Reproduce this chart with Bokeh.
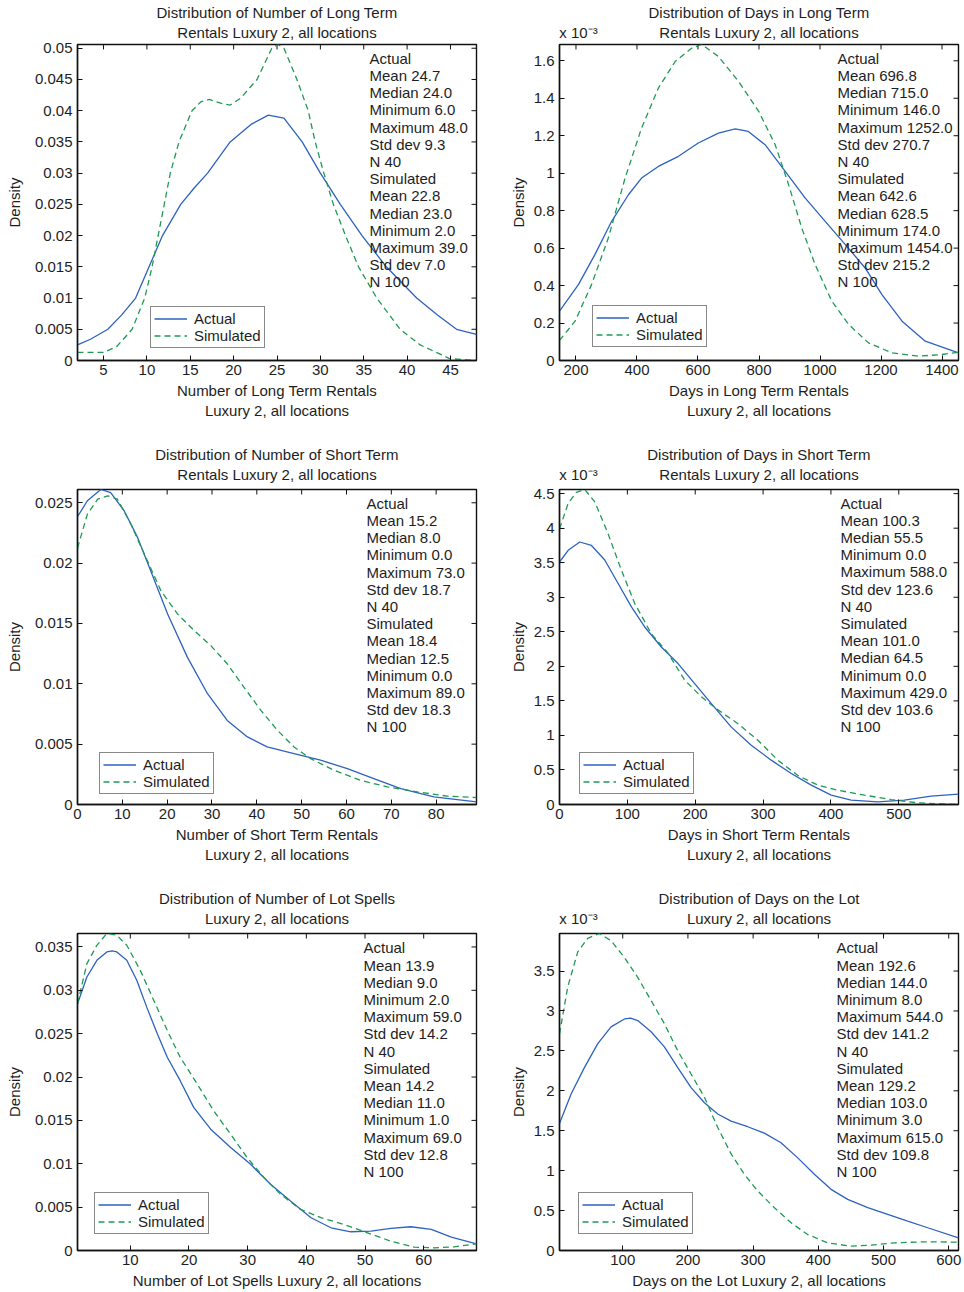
from bokeh.plotting import figure
from bokeh.models import (Label, LinearAxis, Range1d, FixedTicker, CustomJSTickFormatter,
                          Legend, LegendItem)
from bokeh.layouts import column, row
from bokeh.embed import file_html
from bokeh.resources import INLINE

FONT = "Liberation Sans"
TXT = "#1e1e1e"
BLUE = "#2d62c0"
GREEN = "#1f9a55"
FS = "15px"
SCALE_TXT = "x 10\u207b\u00b3"
SCALE_W = 38.0  # approx. rendered width of SCALE_TXT in px

# ---------------- Panel 1: Number of Long Term Rentals ----------------
p1_title = ["Distribution of Number of Long Term", "Rentals Luxury 2, all locations"]
p1_xlabel = ["Number of Long Term Rentals", "Luxury 2, all locations"]
p1_xrange = [2, 48]
p1_yrange = [0, 0.0506]
p1_xticks = [5, 10, 15, 20, 25, 30, 35, 40, 45]
p1_yticks = [0, 0.005, 0.01, 0.015, 0.02, 0.025, 0.03, 0.035, 0.04, 0.045, 0.05]
p1_act_x = [2.0, 3.5, 5.5, 7.1, 8.7, 10.25, 11.8, 13.9, 15.5, 17.0, 19.6, 22.0, 24.0, 25.8, 27.9, 30.0, 32.3, 34.8, 37.6, 41.1, 43.5, 45.7, 48.0]
p1_act_y = [0.0025, 0.0034, 0.005, 0.0073, 0.010, 0.015, 0.020, 0.025, 0.0277, 0.030, 0.035, 0.0378, 0.0393, 0.0388, 0.035, 0.030, 0.025, 0.020, 0.015, 0.010, 0.0073, 0.005, 0.0042]
p1_sim_x = [2.0, 5.0, 6.5, 8.3, 9.75, 10.6, 11.3, 12.0, 12.7, 13.7, 15.2, 16.2, 17.2, 18.5, 19.6, 20.8, 22.7, 24.4, 25.1, 25.8, 27.3, 28.6, 29.4, 30.4, 31.5, 32.9, 34.4, 36.5, 39.2, 41.5, 44.9, 48.0]
p1_sim_y = [0.0013, 0.0013, 0.0022, 0.005, 0.010, 0.015, 0.020, 0.025, 0.030, 0.035, 0.040, 0.0414, 0.0418, 0.0412, 0.0409, 0.042, 0.045, 0.050, 0.0506, 0.050, 0.045, 0.040, 0.035, 0.030, 0.025, 0.020, 0.015, 0.010, 0.005, 0.0025, 0.0003, 0.0]
p1_stats = ["Actual", "Mean 24.7", "Median 24.0", "Minimum 6.0", "Maximum 48.0", "Std dev 9.3", "N 40",
            "Simulated", "Mean 22.8", "Median 23.0", "Minimum 2.0", "Maximum 39.0", "Std dev 7.0", "N 100"]

# ---------------- Panel 2: Days in Long Term Rentals (x 1e-3) ----------------
p2_title = ["Distribution of Days in Long Term", "Rentals Luxury 2, all locations"]
p2_xlabel = ["Days in Long Term Rentals", "Luxury 2, all locations"]
p2_xrange = [146, 1454]
p2_yrange = [0, 1.687]
p2_xticks = [200, 400, 600, 800, 1000, 1200, 1400]
p2_yticks = [0, 0.2, 0.4, 0.6, 0.8, 1.0, 1.2, 1.4, 1.6]
p2_act_x = [146, 208, 262, 317, 372, 415, 470, 536, 601, 667, 722, 765, 820, 886, 951, 1017, 1083, 1148, 1203, 1269, 1345, 1454]
p2_act_y = [0.263, 0.405, 0.565, 0.743, 0.885, 0.974, 1.036, 1.09, 1.161, 1.214, 1.236, 1.223, 1.152, 1.01, 0.868, 0.743, 0.619, 0.494, 0.352, 0.21, 0.103, 0.041]
p2_sim_x = [146, 197, 251, 306, 361, 415, 470, 525, 580, 612, 667, 733, 799, 853, 897, 940, 984, 1039, 1094, 1159, 1236, 1323, 1400, 1454]
p2_sim_y = [0.107, 0.21, 0.405, 0.654, 0.974, 1.241, 1.454, 1.596, 1.668, 1.687, 1.623, 1.49, 1.33, 1.152, 0.939, 0.708, 0.512, 0.316, 0.192, 0.094, 0.041, 0.023, 0.032, 0.044]
p2_stats = ["Actual", "Mean 696.8", "Median 715.0", "Minimum 146.0", "Maximum 1252.0", "Std dev 270.7", "N 40",
            "Simulated", "Mean 642.6", "Median 628.5", "Minimum 174.0", "Maximum 1454.0", "Std dev 215.2", "N 100"]

# ---------------- Panel 3: Number of Short Term Rentals ----------------
p3_title = ["Distribution of Number of Short Term", "Rentals Luxury 2, all locations"]
p3_xlabel = ["Number of Short Term Rentals", "Luxury 2, all locations"]
p3_xrange = [0, 89]
p3_yrange = [0, 0.0261]
p3_xticks = [0, 10, 20, 30, 40, 50, 60, 70, 80]
p3_yticks = [0, 0.005, 0.01, 0.015, 0.02, 0.025]
p3_act_x = [0, 2.2, 5.2, 7.4, 10.4, 13.4, 16.3, 20.1, 24.5, 29.0, 33.4, 37.9, 42.3, 48.3, 54.2, 60.2, 66.1, 72.1, 79.5, 89]
p3_act_y = [0.02384, 0.02517, 0.0261, 0.02585, 0.02434, 0.02213, 0.01938, 0.01579, 0.01221, 0.00918, 0.00697, 0.0056, 0.00477, 0.00422, 0.00367, 0.00298, 0.00215, 0.00132, 0.00063, 0.00022]
p3_sim_x = [0, 2.2, 4.5, 6.7, 8.9, 11.9, 14.9, 18.6, 22.3, 26.0, 29.7, 33.4, 37.1, 40.9, 44.6, 48.3, 52.0, 57.2, 63.1, 69.1, 75.8, 82.5, 89]
p3_sim_y = [0.02125, 0.02406, 0.0253, 0.02558, 0.0253, 0.02324, 0.02075, 0.01772, 0.01579, 0.01442, 0.01318, 0.01166, 0.00973, 0.0078, 0.00615, 0.00477, 0.0038, 0.00284, 0.00201, 0.00146, 0.00105, 0.00069, 0.00058]
p3_stats = ["Actual", "Mean 15.2", "Median 8.0", "Minimum 0.0", "Maximum 73.0", "Std dev 18.7", "N 40",
            "Simulated", "Mean 18.4", "Median 12.5", "Minimum 0.0", "Maximum 89.0", "Std dev 18.3", "N 100"]

# ---------------- Panel 4: Days in Short Term Rentals (x 1e-3) ----------------
p4_title = ["Distribution of Days in Short Term", "Rentals Luxury 2, all locations"]
p4_xlabel = ["Days in Short Term Rentals", "Luxury 2, all locations"]
p4_xrange = [0, 588]
p4_yrange = [0, 4.56]
p4_xticks = [0, 100, 200, 300, 400, 500]
p4_yticks = [0, 0.5, 1, 1.5, 2, 2.5, 3, 3.5, 4, 4.5]
p4_act_x = [0, 12.8, 29.9, 47.1, 66.7, 86.4, 106, 125.6, 150, 174.7, 199.2, 223.8, 253.2, 282.6, 312, 341.5, 371, 400.4, 429.8, 469, 508, 547.6, 588]
p4_act_y = [3.51, 3.68, 3.80, 3.75, 3.54, 3.2, 2.86, 2.57, 2.28, 2.04, 1.75, 1.46, 1.12, 0.859, 0.642, 0.449, 0.28, 0.135, 0.063, 0.039, 0.063, 0.121, 0.15]
p4_sim_x = [0, 12.8, 25, 37.3, 52, 71.6, 91.3, 110.9, 135.4, 160, 184.5, 209, 233.6, 263, 292.4, 322, 351.3, 380.8, 410, 449.5, 488.7, 528, 588]
p4_sim_y = [3.99, 4.36, 4.52, 4.56, 4.38, 3.92, 3.39, 2.91, 2.47, 2.19, 1.80, 1.56, 1.37, 1.17, 0.93, 0.64, 0.42, 0.28, 0.207, 0.135, 0.072, 0.024, 0.0]
p4_stats = ["Actual", "Mean 100.3", "Median 55.5", "Minimum 0.0", "Maximum 588.0", "Std dev 123.6", "N 40",
            "Simulated", "Mean 101.0", "Median 64.5", "Minimum 0.0", "Maximum 429.0", "Std dev 103.6", "N 100"]

# ---------------- Panel 5: Number of Lot Spells ----------------
p5_title = ["Distribution of Number of Lot Spells", "Luxury 2, all locations"]
p5_xlabel = ["Number of Lot Spells Luxury 2, all locations"]
p5_xrange = [1, 69]
p5_yrange = [0, 0.03655]
p5_xticks = [10, 20, 30, 40, 50, 60]
p5_yticks = [0, 0.005, 0.01, 0.015, 0.02, 0.025, 0.03, 0.035]
p5_act_x = [1, 2.6, 4.3, 6.0, 6.9, 7.7, 9.4, 11.1, 12.8, 14.6, 16.3, 18.5, 20.8, 23.7, 27.1, 30.5, 33.9, 37.3, 40.8, 44.2, 47.6, 51.0, 54.4, 57.8, 61.3, 64.7, 69]
p5_act_y = [0.02845, 0.03153, 0.03346, 0.03442, 0.03455, 0.03442, 0.03346, 0.03115, 0.02806, 0.02498, 0.02228, 0.01958, 0.0165, 0.01399, 0.01187, 0.00994, 0.00763, 0.0057, 0.00378, 0.00262, 0.00216, 0.00224, 0.00254, 0.00274, 0.00243, 0.00154, 0.00077]
p5_sim_x = [1, 2.6, 4.3, 6.0, 7.7, 9.4, 11.7, 14.0, 16.3, 18.5, 21.4, 24.2, 27.1, 29.9, 32.8, 35.6, 39.0, 42.5, 46.4, 50.4, 54.4, 58.4, 61.8, 65.2, 69]
p5_sim_y = [0.02845, 0.03307, 0.03519, 0.03655, 0.03635, 0.03519, 0.0323, 0.02883, 0.02536, 0.02228, 0.0192, 0.01611, 0.01341, 0.01072, 0.0084, 0.00648, 0.00474, 0.00378, 0.00301, 0.00204, 0.00108, 0.00039, 0.00031, 0.00042, 0.00077]
p5_stats = ["Actual", "Mean 13.9", "Median 9.0", "Minimum 2.0", "Maximum 59.0", "Std dev 14.2", "N 40",
            "Simulated", "Mean 14.2", "Median 11.0", "Minimum 1.0", "Maximum 69.0", "Std dev 12.8", "N 100"]

# ---------------- Panel 6: Days on the Lot (x 1e-3) ----------------
p6_title = ["Distribution of Days on the Lot", "Luxury 2, all locations"]
p6_xlabel = ["Days on the Lot Luxury 2, all locations"]
p6_xrange = [3, 615]
p6_yrange = [0, 3.97]
p6_xticks = [100, 200, 300, 400, 500, 600]
p6_yticks = [0, 0.5, 1, 1.5, 2, 2.5, 3, 3.5]
p6_act_x = [3, 20.8, 41.2, 61.7, 82.1, 102.6, 112, 123, 143.5, 163.9, 184.4, 204.8, 225.3, 245.7, 266.2, 291.7, 317.2, 342.8, 368.4, 393.9, 419.5, 445, 475.8, 506.4, 537, 567.8, 615]
p6_act_y = [1.59, 1.96, 2.29, 2.59, 2.80, 2.90, 2.91, 2.88, 2.74, 2.55, 2.29, 2.04, 1.85, 1.71, 1.62, 1.55, 1.47, 1.35, 1.16, 0.954, 0.766, 0.64, 0.536, 0.452, 0.368, 0.285, 0.159]
p6_sim_x = [3, 15.6, 31, 46.3, 64.2, 82.1, 102.6, 123, 143.5, 163.9, 184.4, 204.8, 225.3, 245.7, 266.2, 286.6, 307, 332.6, 358.2, 383.7, 414.4, 450.2, 480.9, 516.7, 562.7, 615]
p6_sim_y = [2.71, 3.30, 3.74, 3.91, 3.97, 3.88, 3.67, 3.42, 3.13, 2.84, 2.50, 2.21, 1.92, 1.54, 1.21, 0.954, 0.745, 0.536, 0.347, 0.20, 0.096, 0.054, 0.067, 0.096, 0.109, 0.105]
p6_stats = ["Actual", "Mean 192.6", "Median 144.0", "Minimum 8.0", "Maximum 544.0", "Std dev 141.2", "N 40",
            "Simulated", "Mean 129.2", "Median 103.0", "Minimum 3.0", "Maximum 615.0", "Std dev 109.8", "N 100"]

TICK_FMT = "return String(parseFloat(tick.toFixed(6)));"
INK = "#111111"


def style_text_axis(a):
    a.major_label_text_font = FONT
    a.major_label_text_font_size = FS
    a.major_label_text_color = TXT
    a.axis_label_text_font = FONT
    a.axis_label_text_font_size = FS
    a.axis_label_text_font_style = "normal"
    a.axis_label_text_color = TXT


def text_axis(ticks, labels, standoff, axis_label=None, axis_label_standoff=0):
    # an axis used only to carry text lines outside the frame
    a = LinearAxis(ticker=FixedTicker(ticks=ticks),
                   formatter=CustomJSTickFormatter(args=dict(labels=labels), code="return labels[index];"))
    a.major_tick_in = 0
    a.major_tick_out = 0
    a.major_tick_line_color = None
    a.minor_tick_line_color = None
    a.axis_line_color = None
    a.major_label_standoff = standoff
    style_text_axis(a)
    if axis_label is not None:
        a.axis_label = axis_label
        a.axis_label_standoff = axis_label_standoff
    return a


def panel(width, height, bl, br, bt, bb, xr, yr, xt, yt, ax, ay, sx, sy,
          ttl, xlabel, stats, stats_dx, stats_top, legend_loc, scaled=False, ylab_standoff=9,
          title_standoff=7):
    fw = width - bl - br
    fh = height - bt - bb
    p = figure(width=width, height=height, output_backend="svg", toolbar_location=None,
               x_range=Range1d(*xr), y_range=Range1d(*yr),
               min_border_left=bl, min_border_right=br, min_border_top=bt, min_border_bottom=bb,
               x_axis_location=None, y_axis_location=None)
    p.xgrid.visible = False
    p.ygrid.visible = False
    p.outline_line_color = INK
    p.outline_line_width = 1.4
    p.background_fill_color = "white"
    p.border_fill_color = "white"

    xa = LinearAxis(ticker=FixedTicker(ticks=xt), formatter=CustomJSTickFormatter(code=TICK_FMT))
    ya = LinearAxis(ticker=FixedTicker(ticks=yt), formatter=CustomJSTickFormatter(code=TICK_FMT))
    for a in (xa, ya):
        a.major_tick_in = 5
        a.major_tick_out = 0
        a.minor_tick_line_color = None
        a.axis_line_color = INK
        a.axis_line_width = 1.4
        a.major_tick_line_color = INK
        style_text_axis(a)
    xa.major_label_standoff = 4
    xa.axis_label = xlabel[0]
    xa.axis_label_standoff = 4
    ya.major_label_standoff = 5
    ya.axis_label = "Density"
    ya.axis_label_standoff = ylab_standoff
    p.add_layout(xa, "below")
    p.add_layout(ya, "left")

    xc = (xr[0] + xr[1]) / 2.0
    if len(xlabel) > 1:
        p.add_layout(text_axis([xc], [xlabel[1]], 0), "below")

    # title lines (and the exponent of the y scale) carried by a text-only top axis
    if scaled:
        x_exp = xr[0] + (SCALE_W / 2.0) * (xr[1] - xr[0]) / fw
        top = text_axis([x_exp, xc], [SCALE_TXT, ttl[1]], title_standoff, ttl[0], 0)
    else:
        top = text_axis([xc], [ttl[1]], title_standoff, ttl[0], 0)
    p.add_layout(top, "above")

    # inward ticks on the top and right edges of the box
    dy = 5.0 * (yr[1] - yr[0]) / fh
    dx = 5.0 * (xr[1] - xr[0]) / fw
    p.segment(x0=xt, y0=[yr[1]] * len(xt), x1=xt, y1=[yr[1] - dy] * len(xt),
              line_color=INK, line_width=1)
    p.segment(x0=[xr[1]] * len(yt), y0=yt, x1=[xr[1] - dx] * len(yt), y1=yt,
              line_color=INK, line_width=1)

    r1 = p.line(ax, ay, line_color=BLUE, line_width=1.3)
    r2 = p.line(sx, sy, line_color=GREEN, line_width=1.3, line_dash="6 4")
    leg = Legend(items=[LegendItem(label="Actual", renderers=[r1]),
                        LegendItem(label="Simulated", renderers=[r2])],
                 location=legend_loc)
    leg.label_text_font = FONT
    leg.label_text_font_size = FS
    leg.label_text_color = TXT
    leg.border_line_color = INK
    leg.border_line_width = 1.2
    leg.background_fill_color = "white"
    leg.background_fill_alpha = 1.0
    leg.padding = 3
    leg.spacing = 0
    leg.margin = 0
    leg.glyph_width = 33
    leg.glyph_height = 17
    leg.label_height = 17
    leg.label_standoff = 7
    p.add_layout(leg, "center")

    # statistics block inside the frame
    for i, line in enumerate(stats):
        p.add_layout(Label(x=stats_dx, y=fh - stats_top - 17.2 * i, x_units="screen", y_units="screen",
                           text=line, text_align="left", text_baseline="middle",
                           text_font=FONT, text_font_size=FS, text_color=TXT))
    return p


LW, RW = 505, 458
LBL, LBR, RBL, RBR = 77, 29, 54, 5

f1 = panel(LW, 430, LBL, LBR, 43, 70, p1_xrange, p1_yrange, p1_xticks, p1_yticks,
           p1_act_x, p1_act_y, p1_sim_x, p1_sim_y, p1_title, p1_xlabel, p1_stats,
           292, 14.7, (73, 12), title_standoff=4)
f2 = panel(RW, 430, RBL, RBR, 43, 70, p2_xrange, p2_yrange, p2_xticks, p2_yticks,
           p2_act_x, p2_act_y, p2_sim_x, p2_sim_y, p2_title, p2_xlabel, p2_stats,
           278, 14.7, (33, 13), scaled=True, ylab_standoff=4, title_standoff=4)
f3 = panel(LW, 440, LBL, LBR, 59, 66, p3_xrange, p3_yrange, p3_xticks, p3_yticks,
           p3_act_x, p3_act_y, p3_sim_x, p3_sim_y, p3_title, p3_xlabel, p3_stats,
           289, 13.7, (22, 10))
f4 = panel(RW, 440, RBL, RBR, 59, 66, p4_xrange, p4_yrange, p4_xticks, p4_yticks,
           p4_act_x, p4_act_y, p4_sim_x, p4_sim_y, p4_title, p4_xlabel, p4_stats,
           281, 13.5, (20, 10), scaled=True, ylab_standoff=4)
f5 = panel(LW, 422, LBL, LBR, 63, 42, p5_xrange, p5_yrange, p5_xticks, p5_yticks,
           p5_act_x, p5_act_y, p5_sim_x, p5_sim_y, p5_title, p5_xlabel, p5_stats,
           286, 14.3, (17, 16))
f6 = panel(RW, 422, RBL, RBR, 63, 42, p6_xrange, p6_yrange, p6_xticks, p6_yticks,
           p6_act_x, p6_act_y, p6_sim_x, p6_sim_y, p6_title, p6_xlabel, p6_stats,
           277, 14.3, (19, 16), scaled=True, ylab_standoff=4)

layout = column(row(f1, f2), row(f3, f4), row(f5, f6))
open("out.html", "w").write(file_html(layout, INLINE))
